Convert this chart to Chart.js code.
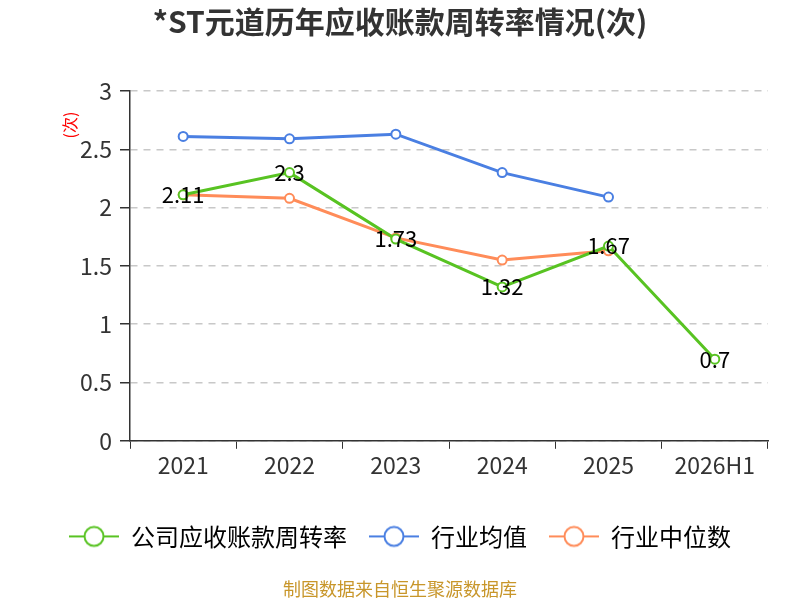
<!DOCTYPE html>
<html>
<head>
<meta charset="utf-8">
<script src="https://cdn.jsdelivr.net/npm/chart.js@4"></script>
<style>
  body { margin: 0; background: #fff; }
  #wrap { width: 800px; height: 600px; }
</style>
</head>
<body>
<div id="wrap"><canvas id="turnover"></canvas></div>
<script>
const years = ['2021', '2022', '2023', '2024', '2025', '2026H1'];
const company = [2.11, 2.3, 1.73, 1.32, 1.67, 0.7];
const industryAvg = [2.61, 2.59, 2.63, 2.30, 2.09, null];
const industryMid = [2.11, 2.08, 1.74, 1.55, 1.63, null];
const yTicks = [0, 0.5, 1, 1.5, 2, 2.5, 3];

const FONT = "'Noto Sans CJK SC', 'Noto Sans', sans-serif";
const GREEN = '#58c322';
const BLUE = '#4a7fe2';
const ORANGE = '#ff8c59';

// legend marker: short line with a hollow circle
function marker(color) {
  const c = document.createElement('canvas');
  c.width = 50;
  c.height = 24;
  const g = c.getContext('2d');
  g.strokeStyle = color;
  g.lineWidth = 2;
  g.beginPath();
  g.moveTo(0, 12);
  g.lineTo(50, 12);
  g.stroke();
  g.beginPath();
  g.arc(25, 12, 9.5, 0, Math.PI * 2);
  g.fillStyle = '#fff';
  g.fill();
  g.stroke();
  return c;
}

// value labels on company line + rotated unit label
const extras = {
  id: 'extras',
  afterDatasetsDraw(chart) {
    const ctx = chart.ctx;
    const meta = chart.getDatasetMeta(0);
    ctx.save();
    ctx.font = '22px ' + FONT;
    ctx.fillStyle = '#000';
    ctx.textAlign = 'center';
    ctx.textBaseline = 'middle';
    meta.data.forEach((pt, i) => {
      ctx.fillText(String(company[i]), pt.x, pt.y);
    });
    ctx.restore();

    ctx.save();
    ctx.translate(70, 125);
    ctx.rotate(-Math.PI / 2);
    ctx.font = '16px ' + FONT;
    ctx.fillStyle = '#ff0000';
    ctx.textAlign = 'center';
    ctx.textBaseline = 'middle';
    ctx.fillText('(次)', 0, 0);
    ctx.restore();
  }
};

function lineSet(label, data, color) {
  return {
    label: label,
    data: data,
    borderColor: color,
    backgroundColor: '#fff',
    borderWidth: 3,
    pointRadius: 4.5,
    pointBorderWidth: 2,
    pointBackgroundColor: '#fff',
    pointBorderColor: color,
    pointStyle: 'circle',
    legendMarker: marker(color),
    tension: 0
  };
}

const sets = [
  lineSet('公司应收账款周转率', company, GREEN),
  lineSet('行业均值', industryAvg, BLUE),
  lineSet('行业中位数', industryMid, ORANGE)
];

new Chart(document.getElementById('turnover'), {
  type: 'line',
  data: { labels: years, datasets: sets },
  plugins: [extras],
  options: {
    responsive: true,
    maintainAspectRatio: false,
    animation: false,
    layout: { padding: { left: 32, right: 32, top: 0, bottom: 0 } },
    plugins: {
      title: {
        display: true,
        text: '*ST元道历年应收账款周转率情况(次)',
        color: '#333',
        font: { family: FONT, size: 30, weight: 'bold' },
        padding: { top: 4, bottom: 51 }
      },
      subtitle: {
        display: true,
        position: 'bottom',
        text: '制图数据来自恒生聚源数据库',
        color: '#c8962a',
        font: { family: FONT, size: 18 },
        padding: { top: 20, bottom: 0 }
      },
      legend: {
        position: 'bottom',
        labels: {
          usePointStyle: true,
          pointStyleWidth: 50,
          color: '#333',
          font: { family: FONT, size: 24 },
          padding: 22,
          generateLabels(chart) {
            return chart.data.datasets.map((ds, i) => ({
              text: ds.label,
              fillStyle: '#fff',
              strokeStyle: ds.borderColor,
              pointStyle: ds.legendMarker,
              datasetIndex: i,
              hidden: false,
              lineWidth: 0
            }));
          }
        }
      },
      tooltip: { enabled: false }
    },
    scales: {
      x: {
        offset: true,
        afterFit(scale) {
          scale.height += 20;
        },
        grid: {
          display: true,
          drawOnChartArea: false,
          drawTicks: true,
          tickLength: 8,
          tickColor: '#333',
          offset: true
        },
        border: { display: true, color: '#333', width: 1.5 },
        ticks: {
          color: '#333',
          font: { family: FONT, size: 23 },
          padding: 3
        }
      },
      y: {
        min: 0,
        max: 3,
        afterBuildTicks(scale) {
          scale.ticks = yTicks.map(v => ({ value: v }));
        },
        afterFit(scale) {
          scale.width = 98;
        },
        grid: {
          color: '#c8c8c8',
          lineWidth: 1.5,
          tickColor: '#333',
          tickLength: 10,
          tickBorderDash: []
        },
        border: { display: true, color: '#333', width: 1.5, dash: [7, 6] },
        ticks: {
          color: '#333',
          font: { family: FONT, size: 23 },
          padding: 8,
          callback: v => String(v)
        }
      }
    }
  }
});
</script>
</body>
</html>
